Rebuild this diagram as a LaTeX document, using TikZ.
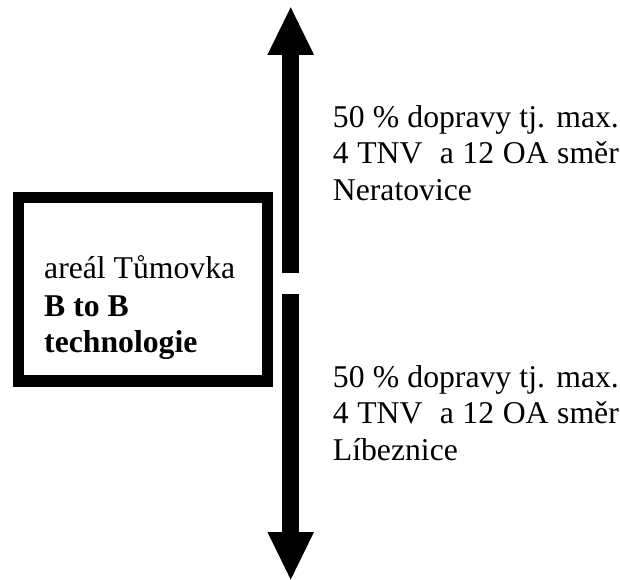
\documentclass[tikz,border=0pt]{standalone}
\usepackage{fontspec}
\setmainfont{Liberation Serif}
\usetikzlibrary{arrows.meta}
\begin{document}
\begin{tikzpicture}[x=1pt,y=-1pt,
  txt/.style={anchor=base west, inner sep=0pt, font=\fontsize{31.7}{36}\selectfont},
  bigarrow/.style={line width=16.5pt, -{Triangle[width=46.6pt,length=47.5pt,line width=0pt]}},
  frame/.style={draw, line width=11.7pt, minimum width=249pt, minimum height=183.7pt, inner sep=0pt}]
\useasboundingbox (0,0) rectangle (620,579);
\node[frame] (box) at (143,289.4) {};
\coordinate (ua) at (290.7,273.3);
\coordinate (ub) at (290.7,7.3);
\coordinate (la) at (290.7,294.3);
\coordinate (lb) at (290.7,579.5);
\draw[bigarrow] (ua) -- (ub);
\draw[bigarrow] (la) -- (lb);
\node[txt] (b1) at (44,278.5) {areál Tůmovka};
\node[txt] (b2) at (44,316.2) {\bfseries B to B};
\node[txt] (b3) at (44,352.7) {\bfseries technologie};
\node[txt] (u1) at (332.7,127.3) {\makebox[286pt][s]{50 \% dopravy tj. max.}};
\node[txt] (u2) at (332.7,163.8) {\makebox[286pt][s]{4 TNV\ \ a 12 OA směr}};
\node[txt] (u3) at (332.7,200.3) {Neratovice};
\node[txt] (l1) at (332.7,387.3) {\makebox[286pt][s]{50 \% dopravy tj. max.}};
\node[txt] (l2) at (332.7,423.5) {\makebox[286pt][s]{4 TNV\ \ a 12 OA směr}};
\node[txt] (l3) at (332.7,460) {Líbeznice};
\end{tikzpicture}
\end{document}
